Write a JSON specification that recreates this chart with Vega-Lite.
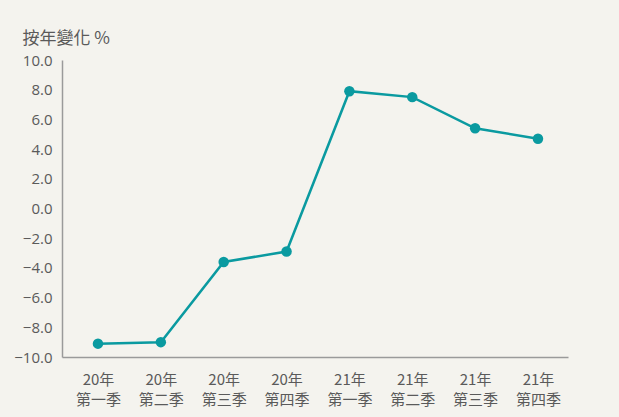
{
  "$schema": "https://vega.github.io/schema/vega-lite/v6.json",
  "width": 506,
  "height": 297,
  "autosize": {"type": "none"},
  "padding": {"left": 62, "top": 60, "right": 51, "bottom": 60},
  "background": "#f4f3ee",
  "config": {
    "view": {"stroke": null},
    "font": "Noto Sans",
    "axis": {"labelFont": "Noto Sans CJK TC", "titleFont": "Noto Sans CJK TC"}
  },
  "data": {
    "values": [
      {"q": "20年|第一季", "v": -9.1},
      {"q": "20年|第二季", "v": -9.0},
      {"q": "20年|第三季", "v": -3.6},
      {"q": "20年|第四季", "v": -2.9},
      {"q": "21年|第一季", "v": 7.9},
      {"q": "21年|第二季", "v": 7.5},
      {"q": "21年|第三季", "v": 5.4},
      {"q": "21年|第四季", "v": 4.7}
    ]
  },
  "encoding": {
    "x": {
      "field": "q",
      "type": "ordinal",
      "sort": null,
      "scale": {"type": "point", "padding": 0.525, "align": 0.545},
      "axis": {
        "title": null,
        "labelAngle": 0,
        "labelExpr": "split(datum.value, '|')",
        "labelFontSize": 15,
        "labelColor": "#5a5a5a",
        "labelLineHeight": 20,
        "labelPadding": 15,
        "ticks": false,
        "domainColor": "#9a9a9a",
        "domainWidth": 1.5
      }
    },
    "y": {
      "field": "v",
      "type": "quantitative",
      "scale": {"domain": [-10, 10], "nice": false},
      "axis": {
        "values": [-10, -8, -6, -4, -2, 0, 2, 4, 6, 8, 10],
        "format": ".1f",
        "grid": false,
        "ticks": false,
        "labelFont": "Open Sans",
        "labelFontSize": 15,
        "labelColor": "#5a5a5a",
        "labelPadding": 10,
        "domainColor": "#9a9a9a",
        "domainWidth": 1.5,
        "title": "按年變化 %",
        "titleAngle": 0,
        "titleAlign": "left",
        "titleBaseline": "alphabetic",
        "titleX": -40,
        "titleY": -17,
        "titleFontSize": 17,
        "titleFontWeight": "normal",
        "titleColor": "#5a5a5a"
      }
    }
  },
  "layer": [
    {"mark": {"type": "line", "color": "#0a9aa0", "strokeWidth": 2.5}},
    {"mark": {"type": "point", "filled": true, "opacity": 1, "color": "#0a9aa0", "size": 110}}
  ]
}
